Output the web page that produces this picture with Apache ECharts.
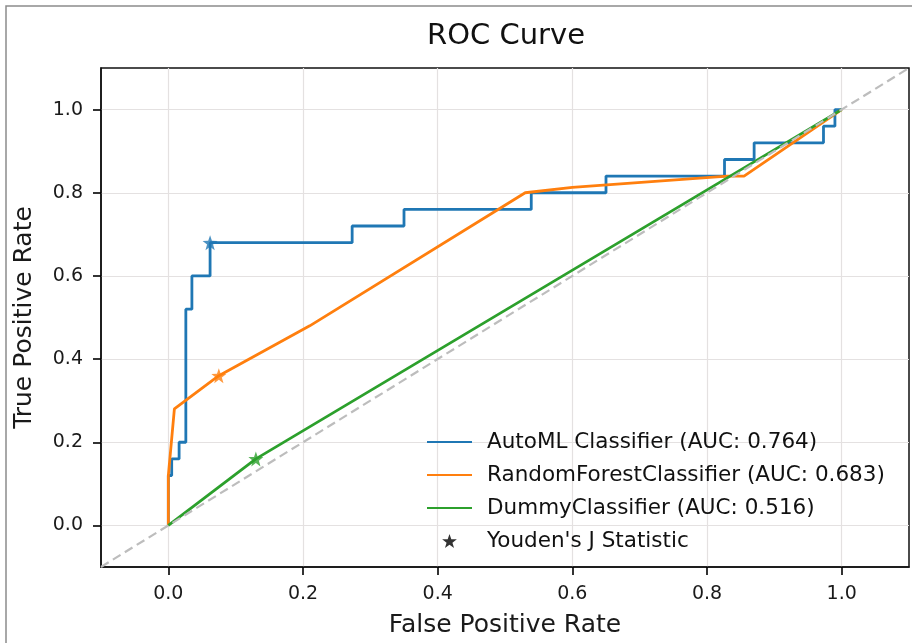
<!DOCTYPE html>
<html>
<head>
<meta charset="utf-8">
<title>ROC Curve</title>
<script src="https://cdn.jsdelivr.net/npm/echarts@6/dist/echarts.min.js"></script>
<style>
  html, body { margin: 0; padding: 0; background: #fff; }
  #roc { width: 912px; height: 643px; }
</style>
</head>
<body>
<div id="roc"></div>
<script>
// values
var tickValues = [0.0, 0.2, 0.4, 0.6, 0.8, 1.0];

var automlFpr = [0, 0, 0.005, 0.005, 0.016, 0.016, 0.026, 0.026, 0.035, 0.035, 0.062, 0.062, 0.273, 0.273, 0.35, 0.35, 0.539, 0.539, 0.65, 0.65, 0.826, 0.826, 0.87, 0.87, 0.973, 0.973, 0.99, 0.99, 1.0];
var automlTpr = [0, 0.12, 0.12, 0.16, 0.16, 0.2, 0.2, 0.52, 0.52, 0.6, 0.6, 0.68, 0.68, 0.72, 0.72, 0.76, 0.76, 0.8, 0.8, 0.84, 0.84, 0.88, 0.88, 0.92, 0.92, 0.96, 0.96, 1.0, 1.0];

var rfFpr = [0, 0, 0.009, 0.075, 0.21, 0.53, 0.6, 0.83, 0.855, 1.0];
var rfTpr = [0, 0.12, 0.28, 0.36, 0.48, 0.80, 0.813, 0.84, 0.84, 1.0];

var dummyFpr = [0, 0.13, 1.0];
var dummyTpr = [0, 0.16, 1.0];

var chanceLine = [-0.1, 1.1];

var seriesNames = ['AutoML Classifier (AUC: 0.764)', 'RandomForestClassifier (AUC: 0.683)', 'DummyClassifier (AUC: 0.516)'];
var seriesColors = ['#1f77b4', '#ff7f0e', '#2ca02c'];
var youdenFpr = [0.062, 0.075, 0.13];
var youdenTpr = [0.68, 0.36, 0.16];
var youdenName = "Youden's J Statistic";

function pairs(xs, ys) {
    var out = [];
    for (var i = 0; i < xs.length; i++) {
        out.push([xs[i], ys[i]]);
    }
    return out;
}

var star = 'path://M0,-10L2.35,-3.24L9.51,-3.09L3.8,1.24L5.88,8.09L0,4L-5.88,8.09L-3.8,1.24L-9.51,-3.09L-2.35,-3.24Z';
var font = 'DejaVu Sans';

var curves = [pairs(automlFpr, automlTpr), pairs(rfFpr, rfTpr), pairs(dummyFpr, dummyTpr)];

var series = [];
var legendData = [];
for (var i = 0; i < curves.length; i++) {
    series.push({
        name: seriesNames[i],
        type: 'line',
        data: curves[i],
        symbol: 'none',
        color: seriesColors[i],
        lineStyle: { width: 2.8, color: seriesColors[i] },
        z: 3 + i,
        animation: false
    });
    // line only in the legend, no marker
    legendData.push({ name: seriesNames[i], itemStyle: { opacity: 0 } });
}
legendData.push({ name: youdenName });

// chance diagonal
series.push({
    name: 'chance',
    type: 'line',
    data: pairs(chanceLine, chanceLine),
    symbol: 'none',
    lineStyle: { width: 2.2, color: '#bdbdbd', type: [9, 5] },
    z: 7,
    silent: true,
    animation: false
});
// youden stars, one per classifier
for (i = 0; i < youdenFpr.length; i++) {
    series.push({
        name: 'youden' + i,
        type: 'scatter',
        data: [[youdenFpr[i], youdenTpr[i]]],
        symbol: star,
        symbolSize: 15,
        itemStyle: { color: seriesColors[i] },
        z: 10,
        animation: false
    });
}
// legend entry only
series.push({
    name: youdenName,
    type: 'scatter',
    data: [],
    symbol: star,
    symbolSize: 11,
    itemStyle: { color: '#000' }
});

var chart = echarts.init(document.getElementById('roc'));

function makeAxis(name, gap) {
    return {
        type: 'value',
        name: name,
        nameGap: gap,
        min: -0.1,
        max: 1.1,
        axisLine: { show: true, onZero: false, lineStyle: { color: '#111', width: 1.5 } },
        axisTick: {
            show: true,
            customValues: tickValues,
            length: 8,
            lineStyle: { color: '#000', width: 1.6 }
        },
        axisLabel: {
            customValues: tickValues,
            fontFamily: font,
            fontSize: 19,
            color: '#1a1a1a',
            margin: 18,
            formatter: function (v) { return v.toFixed(1); }
        },
        splitLine: {
            show: true,
            customValues: tickValues,
            lineStyle: { color: '#e4e1e1', width: 1.2 }
        },
        nameLocation: 'middle',
        nameTextStyle: { fontFamily: font, fontSize: 25, color: '#1a1a1a' }
    };
}

var option = {
    backgroundColor: '#fff',
    animation: false,
    title: {
        text: 'ROC Curve',
        left: 422,
        top: 17,
        textStyle: { fontFamily: font, fontSize: 29, fontWeight: 'normal', color: '#111' }
    },
    grid: {
        left: 101,
        right: 3,
        top: 68,
        bottom: 74,
        show: true,
        borderColor: '#111',
        borderWidth: 1.5
    },
    legend: {
        orient: 'vertical',
        left: 421,
        top: 426,
        itemWidth: 45,
        itemHeight: 14,
        itemGap: 11,
        data: legendData,
        textStyle: { fontFamily: font, fontSize: 21.5, color: '#111', padding: [0, 0, 0, 10], lineHeight: 22 }
    },
    xAxis: makeAxis('False Positive Rate', 46),
    yAxis: makeAxis('True Positive Rate', 64),
    graphic: [{
        type: 'rect',
        z: 100,
        shape: { x: 6, y: 6, width: 930, height: 660 },
        style: { fill: 'none', stroke: '#8c8c8c', lineWidth: 1.5 },
        silent: true
    }],
    series: series
};

chart.setOption(option);
</script>
</body>
</html>
